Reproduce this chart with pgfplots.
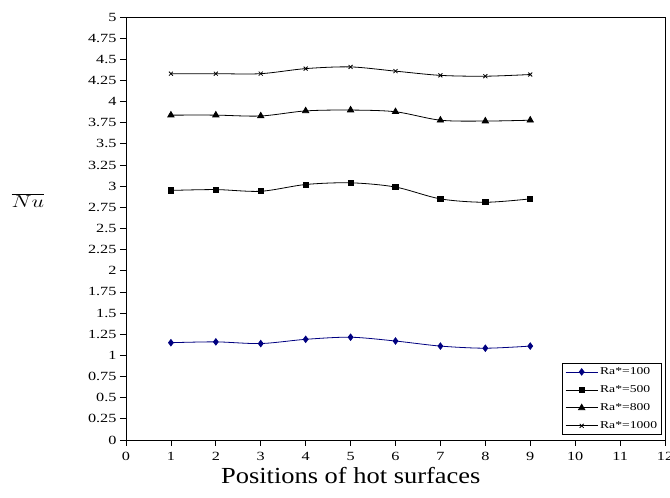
\documentclass[border=0pt]{standalone}
\usepackage{fontspec}
\setmainfont{Liberation Serif}
\newfontfamily\tickfont{Liberation Serif}[FakeStretch=1.3]
\newfontfamily\labfont{Liberation Serif}[FakeStretch=1.15]
\usepackage{graphicx}
\usepackage{pgfplots}
\pgfplotsset{compat=1.18}
\definecolor{ranavy}{HTML}{000080}

\begin{document}
\begin{tikzpicture}
\begin{axis}[
    scale only axis,
    width=539pt, height=423pt,
    xmin=0, xmax=12, ymin=0, ymax=5,
    xtick={0,1,2,3,4,5,6,7,8,9,10,11,12},
    ytick={0,0.25,0.5,0.75,1,1.25,1.5,1.75,2,2.25,2.5,2.75,3,3.25,3.5,3.75,4,4.25,4.5,4.75,5},
    yticklabels={0,0.25,0.5,0.75,1,1.25,1.5,1.75,2,2.25,2.5,2.75,3,3.25,3.5,3.75,4,4.25,4.5,4.75,5},
    tick pos=left,
    tick align=outside,
    major tick length=6pt,
    tick style={black, line width=0.8pt},
    axis line style={black, line width=0.8pt},
    ticklabel style={font=\tickfont\fontsize{12.5}{14}\selectfont},
    xticklabel style={yshift=-3pt},
    /pgf/number format/assume math mode=true,
    xlabel={Positions of hot surfaces},
    every axis x label/.style={at={(axis description cs:0.417,-0.083)}, anchor=center,
        font=\labfont\fontsize{23}{25}\selectfont},
    ylabel={\scalebox{1.3}[1]{$\overline{Nu}$}},
    every axis y label/.style={at={(axis description cs:-0.182,0.567)}, anchor=center,
        font=\fontsize{18}{20}\selectfont},
    legend style={at={(rel axis cs:0.9944,0.0118)}, anchor=south east,
        draw=black, line width=0.8pt, font=\tickfont\fontsize{10.5}{12}\selectfont,
        row sep=5.5pt, inner sep=2.5pt},
    legend cell align=left,
    legend image code/.code={\draw[mark repeat=2, mark phase=2, #1]
        plot coordinates {(0pt,0pt) (16pt,0pt) (32pt,0pt)};},
]
\addplot[ranavy, smooth, line width=0.8pt, mark=diamond*, mark size=3.2pt,
    mark options={solid, fill=ranavy}] coordinates {
    (1,1.15) (2,1.16) (3,1.14) (4,1.19) (5,1.215) (6,1.17) (7,1.11) (8,1.085) (9,1.11)
};
\addlegendentry{Ra*=100}
\addplot[black, smooth, line width=0.8pt, mark=square*, mark size=2.6pt,
    mark options={solid, fill=black}] coordinates {
    (1,2.95) (2,2.96) (3,2.94) (4,3.02) (5,3.04) (6,2.99) (7,2.85) (8,2.81) (9,2.85)
};
\addlegendentry{Ra*=500}
\addplot[black, smooth, line width=0.8pt, mark=triangle*, mark size=3.6pt,
    mark options={solid, fill=black}] coordinates {
    (1,3.84) (2,3.84) (3,3.83) (4,3.89) (5,3.90) (6,3.88) (7,3.78) (8,3.77) (9,3.78)
};
\addlegendentry{Ra*=800}
\addplot[black, smooth, line width=0.8pt, mark=x, mark size=2.8pt,
    mark options={solid, line width=0.8pt}] coordinates {
    (1,4.33) (2,4.33) (3,4.33) (4,4.39) (5,4.41) (6,4.36) (7,4.31) (8,4.30) (9,4.32)
};
\addlegendentry{Ra*=1000}
\end{axis}
\pgfresetboundingbox
\path[use as bounding box] (-126pt,-58pt) rectangle (544pt,440pt);
\end{tikzpicture}
\end{document}
